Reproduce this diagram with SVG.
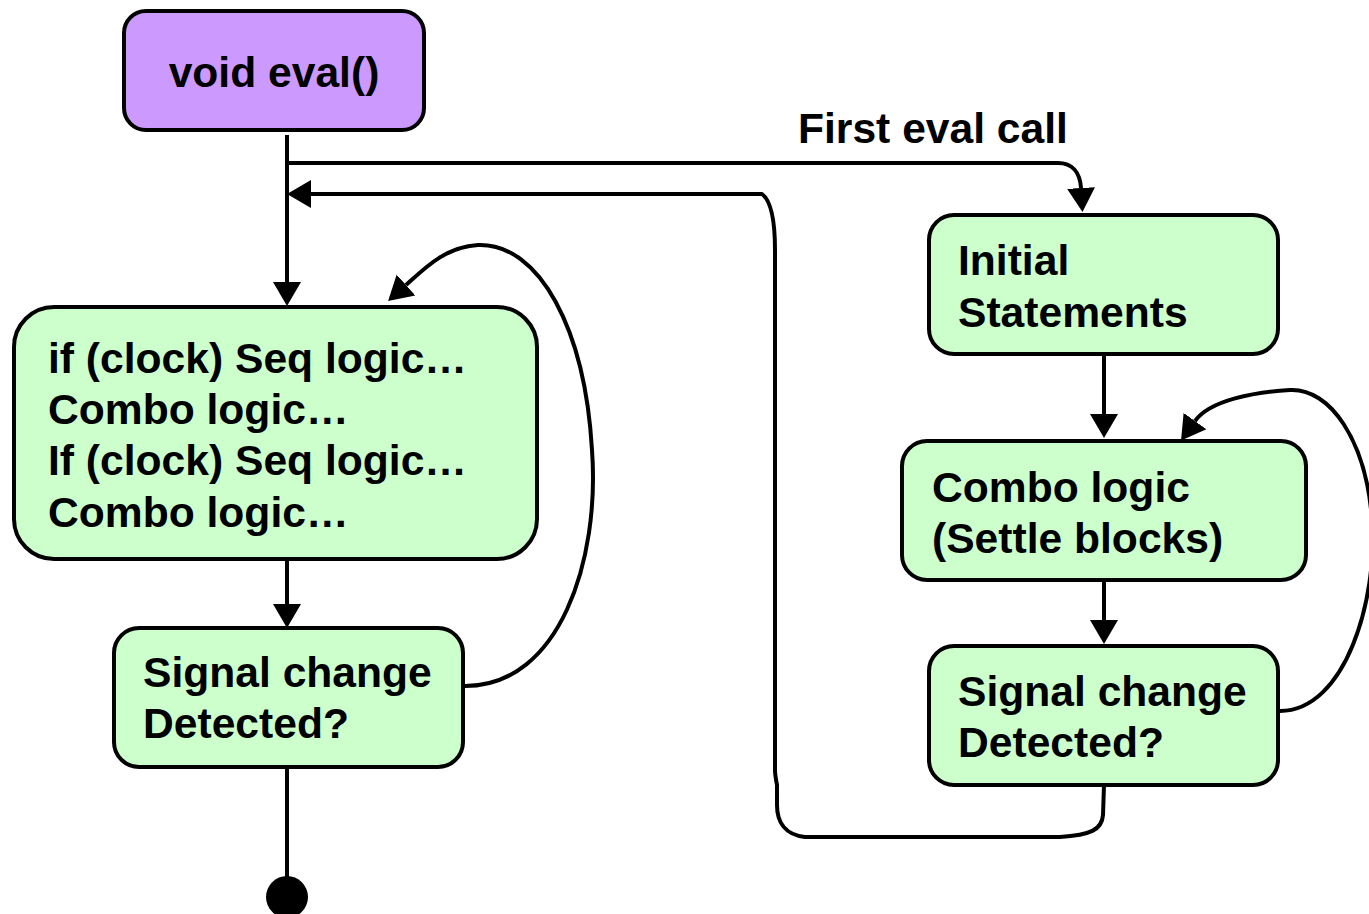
<svg xmlns="http://www.w3.org/2000/svg" width="1369" height="914" viewBox="0 0 1369 914">
  <style>
    .box { stroke: #000; stroke-width: 4; }
    .start { fill: #CC99FF; }
    .step { fill: #CCFFCC; }
    .lbl { font-family: "Liberation Sans", Arial, sans-serif; font-weight: bold; font-size: 42.6px; fill: #000; }
    .wire { fill: none; stroke: #000; stroke-width: 4; stroke-linejoin: round; }
    .arrow { marker-end: url(#head); }
  </style>
  <defs>
    <marker id="head" markerUnits="userSpaceOnUse" markerWidth="26" markerHeight="30" viewBox="0 -15 26 30" refX="0" refY="0" orient="auto">
      <path d="M0,-14 L24,0 L0,14 Z" fill="#000"/>
    </marker>
  </defs>

  <rect width="1369" height="914" fill="#fff"/>

  <!-- connectors -->
  <g id="connectors">
    <path class="wire arrow" d="M287,135 L287,282"/>
    <path class="wire arrow" d="M287,163 L1058,163 C1072,163 1080,172 1081,188"/>
    <path class="wire arrow" d="M1104,785 L1103,815 C1102,830 1090,835 1060,837 L805,837 C785,835 777,822 777,805 L777,785 C776,780 775,775 775,770 L775,250 C775,215 770,200 762,194 L311,194"/>
    <path class="wire arrow" d="M287,560 L287,604"/>
    <path class="wire arrow" d="M465,686 C560,686 600,560 592,450 C585,330 540,243 478,245 C445,247 425,268 406,285"/>
    <path class="wire" d="M287,767 L287,880"/>
    <circle cx="287" cy="897" r="21" fill="#000"/>
    <path class="wire arrow" d="M1104,354 L1104,414"/>
    <path class="wire arrow" d="M1104,580 L1104,620"/>
    <path class="wire arrow" d="M1280,711 C1345,711 1378,600 1372,520 C1366,440 1330,388 1290,390 C1255,392 1210,400 1195,421"/>
    <text class="lbl" x="798" y="143">First eval call</text>
  </g>

  <g id="eval">
    <rect class="box start" x="124" y="11" width="300" height="119" rx="22"/>
    <text class="lbl" x="274" y="87" text-anchor="middle">void eval()</text>
  </g>

  <g id="loop-body">
    <rect class="box step" x="14" y="307" width="523" height="252" rx="40"/>
    <text class="lbl" x="48" y="373">if (clock) Seq logic…</text>
    <text class="lbl" x="48" y="424">Combo logic…</text>
    <text class="lbl" x="48" y="475">If (clock) Seq logic…</text>
    <text class="lbl" x="48" y="527">Combo logic…</text>
  </g>

  <g id="change-left">
    <rect class="box step" x="114" y="628" width="349" height="139" rx="25"/>
    <text class="lbl" x="143" y="687">Signal change</text>
    <text class="lbl" x="143" y="738">Detected?</text>
  </g>

  <g id="initial">
    <rect class="box step" x="929" y="215" width="349" height="139" rx="25"/>
    <text class="lbl" x="958" y="275">Initial</text>
    <text class="lbl" x="958" y="327">Statements</text>
  </g>

  <g id="settle">
    <rect class="box step" x="902" y="441" width="404" height="139" rx="25"/>
    <text class="lbl" x="932" y="502">Combo logic</text>
    <text class="lbl" x="932" y="553">(Settle blocks)</text>
  </g>

  <g id="change-right">
    <rect class="box step" x="929" y="646" width="349" height="139" rx="25"/>
    <text class="lbl" x="958" y="706">Signal change</text>
    <text class="lbl" x="958" y="757">Detected?</text>
  </g>
</svg>
